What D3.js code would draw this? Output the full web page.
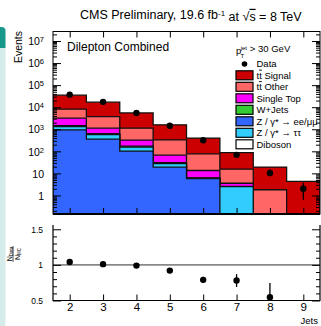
<!DOCTYPE html>
<html>
<head>
<meta charset="utf-8">
<script src="https://cdn.jsdelivr.net/npm/d3@7"></script>
<style>
  body { margin: 0; background: #fff; }
  svg { display: block; }
  text { font-family: "Liberation Sans", Arial, Helvetica, sans-serif; fill: #000; }
</style>
</head>
<body>
<div class="chart"></div>
<script>
// values, one entry per jet bin
const jets = [2, 3, 4, 5, 6, 7, 8, 9];
const diboson = [0.1, 0.08, 0.05, 0.02, 0.01, 0, 0, 0];
const zll = [930, 355, 102, 19, 5.8, 0.07, 0, 0];
const ztt = [390, 220, 53, 9, 0.3, 2.45, 0, 0];
const wjets = [150, 60, 17, 3, 0.2, 0.05, 0, 0];
const singleTop = [1700, 485, 150, 36, 7.2, 1.0, 0.01, 0];
const ttOther = [4950, 2640, 800, 263, 63.5, 12, 1.8, 0.1];
const ttSignal = [26800, 13100, 4380, 1250, 320, 72.4, 17.5, 4.2];

const dataEvents = [37000, 17500, 5450, 1450, 315, 69, 10.5, 2];
const dataErrLow = [190, 130, 74, 38, 18, 8, 3.2, 1.36];
const dataErrHigh = [190, 130, 74, 38, 18, 8, 4.3, 1.76];

const ratioJets = [2, 3, 4, 5, 6, 7, 8];
const ratioVals = [1.04, 1.01, 0.99, 0.92, 0.79, 0.78, 0.545];
const ratioErr = [0.01, 0.01, 0.015, 0.025, 0.045, 0.09, 0.2];

const yMajorTicks = [1, 10, 1e2, 1e3, 1e4, 1e5, 1e6, 1e7];
const ratioMajorTicks = [0.5, 1, 1.5];

const sampleKeys = ["diboson", "zll", "ztt", "wjets", "singleTop", "ttOther", "ttSignal"];
const sampleColors = ["#ffffff", "#3366ff", "#33ccff", "#33cc33", "#ff00ff", "#ff6666", "#cc0000"];

const width = 321, height = 326;
const padLeft = 53, padRight = 320, padTop = 31.5, mainBottom = 214;
const ratioTop = 225, ratioBottom = 300.5;
const yMin = 0.144;

const svg = d3.select(".chart").append("svg")
  .attr("width", width)
  .attr("height", height);

svg.append("rect").attr("width", width).attr("height", height).attr("fill", "#fff");

// left page decoration
svg.append("rect").attr("x", 0).attr("y", 46).attr("width", 5.5).attr("height", 280).attr("fill", "#d6ecea");
svg.append("path").attr("d", "M0,27 H1.5 A4,4 0 0 1 5.5,31 V48 H0 Z").attr("fill", "#16998a");

const x = d3.scaleLinear().domain([1.5, 9.5]).range([padLeft, padRight]);
const y = d3.scaleLog().domain([yMin, 2.7e7]).range([mainBottom, padTop]);
const yr = d3.scaleLinear().domain([0.5, 1.56]).range([ratioBottom, ratioTop]);

svg.append("defs").append("clipPath").attr("id", "mainClip")
  .append("rect").attr("x", padLeft).attr("y", padTop).attr("width", padRight - padLeft).attr("height", mainBottom - padTop);

// stacked histograms, ROOT style: each cumulative drawn from the axis up
const table = jets.map((j, i) => ({
  jet: j, diboson: diboson[i], zll: zll[i], ztt: ztt[i], wjets: wjets[i],
  singleTop: singleTop[i], ttOther: ttOther[i], ttSignal: ttSignal[i]
}));
const stacked = d3.stack().keys(sampleKeys)(table);

const clampY = (v) => y(Math.max(v, yMin));
const hist = svg.append("g").attr("clip-path", "url(#mainClip)");

for (let k = stacked.length - 1; k >= 0; k--) {
  const layer = stacked[k];
  const pts = [];
  layer.forEach((d, i) => {
    pts.push([jets[i] - 0.5, d[1]]);
    pts.push([jets[i] + 0.5, d[1]]);
  });
  const area = d3.area()
    .x((d) => x(d[0]))
    .y0(y(yMin))
    .y1((d) => clampY(d[1]));
  hist.append("path").attr("d", area(pts)).attr("fill", sampleColors[k]);

  const outline = [[1.5, yMin], ...pts, [9.5, yMin]];
  hist.append("path")
    .attr("d", d3.line().x((d) => x(d[0])).y((d) => clampY(d[1]))(outline))
    .attr("fill", "none")
    .attr("stroke", "#111")
    .attr("stroke-width", 1.3);
}

// data points
const dataG = svg.append("g").attr("clip-path", "url(#mainClip)");
dataG.selectAll("line.err").data(jets).enter().append("line")
  .attr("x1", (d) => x(d)).attr("x2", (d) => x(d))
  .attr("y1", (d, i) => clampY(dataEvents[i] - dataErrLow[i]))
  .attr("y2", (d, i) => y(dataEvents[i] + dataErrHigh[i]))
  .attr("stroke", "#000").attr("stroke-width", 1.3);
dataG.selectAll("circle").data(jets).enter().append("circle")
  .attr("cx", (d) => x(d))
  .attr("cy", (d, i) => y(dataEvents[i]))
  .attr("r", 3.2).attr("fill", "#000");

// main frame
svg.append("rect").attr("x", padLeft).attr("y", padTop).attr("width", padRight - padLeft).attr("height", mainBottom - padTop)
  .attr("fill", "none").attr("stroke", "#000").attr("stroke-width", 1);
svg.append("line").attr("x1", padLeft).attr("x2", padRight).attr("y1", mainBottom).attr("y2", mainBottom)
  .attr("stroke", "#000").attr("stroke-width", 2);

const minorLog = [];
for (let e = -1; e <= 7; e++) {
  for (let m = 2; m <= 9; m++) {
    const v = m * Math.pow(10, e);
    if (v > yMin && v < 2.7e7) minorLog.push(v);
  }
}

function styleAxis(g) {
  g.select(".domain").remove();
  g.selectAll("line").attr("stroke", "#000").attr("stroke-width", 1);
  return g;
}

// y axis ticks main pad (inward)
svg.append("g").attr("transform", `translate(${padLeft},0)`)
  .call(d3.axisLeft(y).tickValues(minorLog).tickSize(-4).tickFormat(""))
  .call(styleAxis);
const yAxisMain = svg.append("g").attr("transform", `translate(${padLeft},0)`)
  .call(d3.axisLeft(y).tickValues(yMajorTicks).tickSize(-8).tickPadding(10).tickFormat(""))
  .call(styleAxis);
yAxisMain.selectAll(".tick").each(function (d) {
  const t = d3.select(this).append("text")
    .attr("x", -9).attr("dy", "0.35em")
    .attr("text-anchor", "end")
    .style("font-size", "10.5px");
  const p = Math.round(Math.log10(d));
  if (p <= 1) {
    t.text(d === 1 ? "1" : "10");
  } else {
    t.append("tspan").text("10");
    t.append("tspan").attr("dy", "-0.4em").style("font-size", "7.5px").text(p);
  }
});
svg.append("g").attr("transform", `translate(${padRight},0)`)
  .call(d3.axisRight(y).tickValues(minorLog).tickSize(-4).tickFormat(""))
  .call(styleAxis);
svg.append("g").attr("transform", `translate(${padRight},0)`)
  .call(d3.axisRight(y).tickValues(yMajorTicks).tickSize(-8).tickFormat(""))
  .call(styleAxis);

// x ticks main pad
svg.append("g").attr("transform", `translate(0,${padTop})`)
  .call(d3.axisTop(x).tickValues(jets).tickSize(-6).tickFormat(""))
  .call(styleAxis);
svg.append("g").attr("transform", `translate(0,${mainBottom})`)
  .call(d3.axisBottom(x).tickValues(jets).tickSize(-6).tickFormat(""))
  .call(styleAxis);

// ratio pad
svg.append("line").attr("x1", padLeft).attr("x2", padRight).attr("y1", yr(1)).attr("y2", yr(1))
  .attr("stroke", "#888").attr("stroke-width", 1.6);

svg.append("path")
  .attr("d", `M${padLeft},${ratioTop} V${ratioBottom} H${padRight} V${ratioTop}`)
  .attr("fill", "none").attr("stroke", "#000").attr("stroke-width", 1.2);

const ratioMinor = d3.range(0.6, 1.56, 0.1).filter((v) => Math.abs(v - 1) > 0.01 && Math.abs(v - 1.5) > 0.01);
svg.append("g").attr("transform", `translate(${padLeft},0)`)
  .call(d3.axisLeft(yr).tickValues(ratioMinor).tickSize(-4).tickFormat(""))
  .call(styleAxis);
svg.append("g").attr("transform", `translate(${padLeft},0)`)
  .call(d3.axisLeft(yr).tickValues(ratioMajorTicks).tickSize(-8).tickPadding(10).tickFormat((d) => d))
  .call(styleAxis)
  .selectAll("text").style("font-size", "8.5px");
svg.append("g").attr("transform", `translate(${padRight},0)`)
  .call(d3.axisRight(yr).tickValues(ratioMinor).tickSize(-4).tickFormat(""))
  .call(styleAxis);
svg.append("g").attr("transform", `translate(${padRight},0)`)
  .call(d3.axisRight(yr).tickValues(ratioMajorTicks).tickSize(-8).tickFormat(""))
  .call(styleAxis);
svg.append("g").attr("transform", `translate(0,${ratioBottom})`)
  .call(d3.axisBottom(x).tickValues(jets).tickSize(-6).tickPadding(2).tickFormat((d) => d))
  .call(styleAxis)
  .selectAll("text").style("font-size", "11.5px").attr("dy", "0.71em");

svg.selectAll("line.rerr").data(ratioJets).enter().append("line")
  .attr("x1", (d) => x(d)).attr("x2", (d) => x(d))
  .attr("y1", (d, i) => yr(Math.max(ratioVals[i] - ratioErr[i], 0.5)))
  .attr("y2", (d, i) => yr(ratioVals[i] + ratioErr[i]))
  .attr("stroke", "#000").attr("stroke-width", 1.3);
svg.selectAll("circle.rpt").data(ratioJets).enter().append("circle")
  .attr("cx", (d) => x(d))
  .attr("cy", (d, i) => yr(ratioVals[i]))
  .attr("r", 3.2).attr("fill", "#000");

// titles
const title = svg.append("text").attr("x", 80).attr("y", 19).style("font-size", "12.5px");
title.append("tspan").text("CMS Preliminary, 19.6 fb");
title.append("tspan").attr("dy", "-0.4em").style("font-size", "8px").text("-1");
title.append("tspan").attr("dy", "0.4em").text(" at ");
title.append("tspan").text("\u221A");
title.append("tspan").style("text-decoration", "overline").text("s");
title.append("tspan").text(" =  8 TeV");

svg.append("text").attr("x", 67).attr("y", 51).style("font-size", "12px").text("Dilepton Combined");

svg.append("text")
  .attr("transform", "translate(22,31) rotate(-90)")
  .attr("text-anchor", "end")
  .style("font-size", "10.5px")
  .text("Events");

svg.append("text").attr("x", 318).attr("y", 324).attr("text-anchor", "end").style("font-size", "9.5px").text("Jets");

// ratio y title: N_Data / N_MC
const rt = svg.append("g").attr("transform", "translate(13,254) rotate(-90)");
const num = rt.append("text").attr("x", 0).attr("y", -1.5).attr("text-anchor", "middle").style("font-size", "7px");
num.append("tspan").text("N");
num.append("tspan").attr("dy", "1.5px").style("font-size", "4.5px").text("Data");
rt.append("line").attr("x1", -8).attr("x2", 8).attr("y1", 0).attr("y2", 0).attr("stroke", "#000").attr("stroke-width", 0.7);
const den = rt.append("text").attr("x", 0).attr("y", 6.5).attr("text-anchor", "middle").style("font-size", "7px");
den.append("tspan").text("N");
den.append("tspan").attr("dy", "1.5px").style("font-size", "4.5px").text("MC");

// legend
const legendLabels = ["tt Signal", "tt Other", "Single Top", "W+Jets", "Z / \u03B3* \u2192 ee/\u03BC\u03BC", "Z / \u03B3* \u2192 \u03C4\u03C4", "Diboson"];
const legendColors = ["#cc0000", "#ff6666", "#ff00ff", "#33cc33", "#3366ff", "#33ccff", "#ffffff"];
const legX = 236, legText = 256.5, legY0 = 75.3, legStep = 11.5;

const ptLabel = svg.append("text").attr("x", 236).attr("y", 54).style("font-size", "9.5px");
ptLabel.append("tspan").text("p");
ptLabel.append("tspan").attr("dx", "-0.1em").attr("dy", "-0.75em").style("font-size", "6px").text("jet");
ptLabel.append("tspan").attr("dx", "-1.1em").attr("dy", "1.35em").style("font-size", "6px").text("T");
ptLabel.append("tspan").attr("dx", "0.6em").attr("dy", "-0.6em").text("> 30 GeV");

svg.append("circle").attr("cx", legX + 8.5).attr("cy", legY0 - 11.3).attr("r", 2.8).attr("fill", "#000");
svg.append("text").attr("x", legText).attr("y", legY0 - 11.3).attr("dy", "0.35em").style("font-size", "9.5px").text("Data");

legendLabels.forEach((lab, i) => {
  const cy = legY0 + i * legStep;
  svg.append("rect").attr("x", legX).attr("y", cy - 4.5).attr("width", 17).attr("height", 9)
    .attr("fill", legendColors[i]).attr("stroke", "#000").attr("stroke-width", 1.2);
  const t = svg.append("text").attr("x", legText).attr("y", cy).attr("dy", "0.35em").style("font-size", "9.5px");
  if (i < 2) {
    t.append("tspan").text("t");
    t.append("tspan").style("text-decoration", "overline").text("t");
    t.append("tspan").text(" " + lab.split(" ")[1]);
  } else {
    t.text(lab);
  }
});
</script>
</body>
</html>
